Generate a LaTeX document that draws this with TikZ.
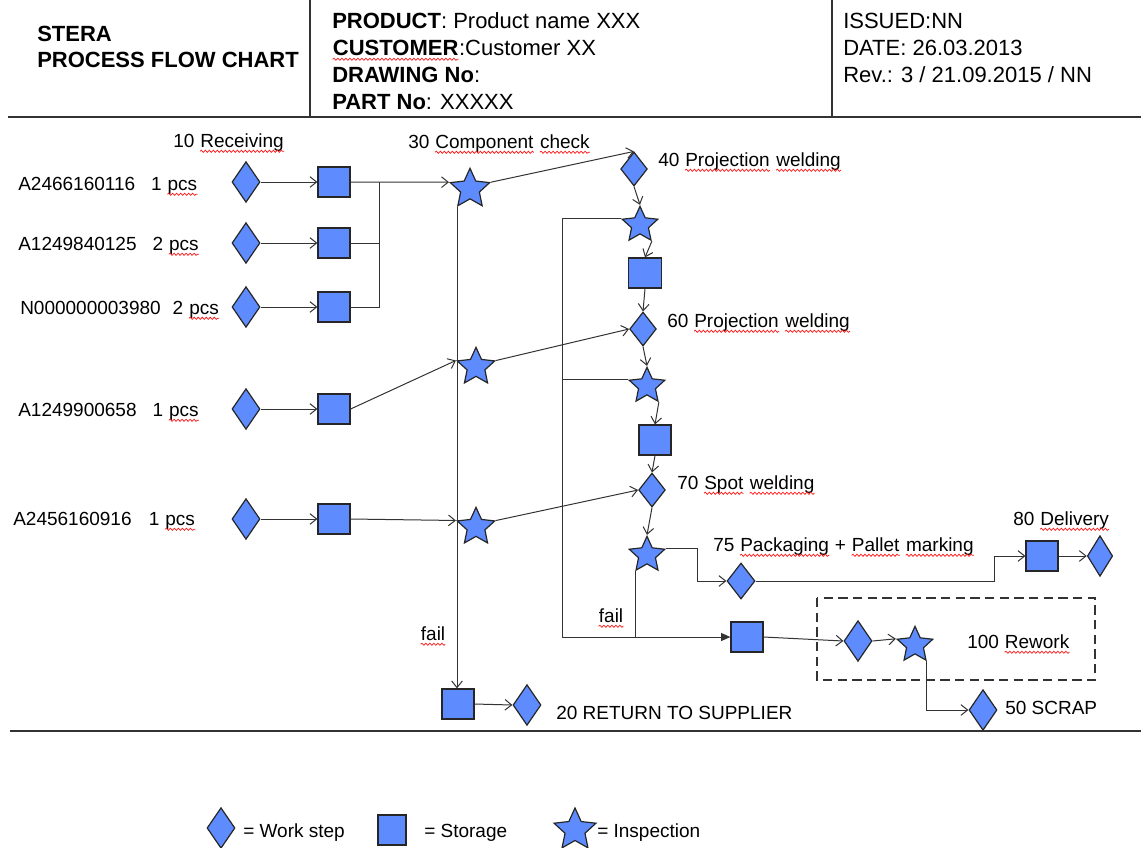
\documentclass[tikz,border=0pt]{standalone}
\usepackage{fontspec}
\setmainfont{Liberation Sans}
\usepackage{tikz}
\usetikzlibrary{shapes.geometric,arrows.meta,decorations.pathmorphing}
\definecolor{stepblue}{HTML}{5E8CFF}
\definecolor{linegray}{HTML}{333333}

\newcommand\spellwave[1]{\tikz[baseline=(sw.base)]{\node[inner sep=0pt,anchor=base] (sw) {#1};
    \draw[red!90,line width=0.55pt,decorate,decoration={snake,amplitude=0.8pt,segment length=3pt}]
        ([yshift=-3.2pt]sw.base west) -- ([yshift=-3.2pt]sw.base east);}}

\begin{document}
\begin{tikzpicture}[x=0.75pt,y=-0.75pt,
    work/.style={diamond,draw=black!85,fill=stepblue,line width=0.9pt,inner sep=0pt,minimum width=21pt,minimum height=30.5pt},
    smallwork/.style={work,minimum width=20pt,minimum height=25.5pt},
    store/.style={rectangle,draw=black!85,fill=stepblue,line width=0.9pt,inner sep=0pt,minimum width=24pt,minimum height=22.5pt},
    check/.style={star,star points=5,star point ratio=2.1,draw=black!85,fill=stepblue,line width=0.9pt,inner sep=0pt,minimum size=29.5pt},
    smallcheck/.style={check,minimum size=28pt},
    wire/.style={draw=linegray,line width=0.75pt},
    flow/.style={wire,-{Straight Barb[length=5pt,width=8pt]}},
    lbl/.style={anchor=base west,inner sep=0pt,font=\fontsize{14.25}{17}\selectfont},
    head/.style={anchor=base west,inner sep=0pt,font=\fontsize{16.5}{19}\selectfont}]
    \useasboundingbox (0,0) rectangle (1141,847);

    % header
    \draw[line width=1pt,draw=linegray] (310,0) -- (310,117);
    \draw[line width=1pt,draw=linegray] (832,0) -- (832,117);
    \draw[line width=1.2pt,draw=linegray] (8,117) -- (1141,117);
    \draw[line width=1.2pt,draw=linegray] (10,731) -- (1141,731);
    \node[head,font=\fontsize{16.5}{19}\selectfont\bfseries] (title1) at (37,41) {STERA};
    \node[head,font=\fontsize{16.5}{19}\selectfont\bfseries] (title2) at (37,67) {PROCESS FLOW CHART};
    \node[head] (prod) at (332,28) {\textbf{PRODUCT}: Product name XXX};
    \node[head] (cust) at (332,55) {\spellwave{\textbf{CUSTOMER}}:Customer XX};
    \node[head] (drw) at (332,82) {\textbf{DRAWING No}:};
    \node[head] (part) at (332,109) {\textbf{PART No}: XXXXX};
    \node[head] (iss) at (843,28) {ISSUED:NN};
    \node[head] (date) at (843,55) {DATE: 26.03.2013};
    \node[head] (rev) at (843,82) {Rev.: 3 / 21.09.2015 / NN};

    % incoming parts
    \node[lbl] (t10) at (173,147) {10 \spellwave{Receiving}};
    \node[lbl] (pn1) at (18,190) {A2466160116\hspace{12pt}1 \spellwave{pcs}};
    \node[lbl] (pn2) at (18,250) {A1249840125\hspace{12pt}2 \spellwave{pcs}};
    \node[lbl] (pn3) at (20,314) {N000000003980\hspace{9pt}2 \spellwave{pcs}};
    \node[lbl] (pn4) at (18,416) {A1249900658\hspace{12pt}1 \spellwave{pcs}};
    \node[lbl] (pn5) at (13,525) {A2456160916\hspace{13pt}1 \spellwave{pcs}};
    \node[work] (w1) at (246,182) {};
    \node[work] (w2) at (246,243) {};
    \node[work] (w3) at (246,307) {};
    \node[work] (w4) at (246,409) {};
    \node[work] (w5) at (246,519) {};
    \node[store] (st1) at (334,182) {};
    \node[store] (st2) at (334,243) {};
    \node[store] (st3) at (334,307) {};
    \node[store] (st4) at (334,409) {};
    \node[store] (st5) at (334,519) {};
    \foreach \i in {1,...,5} {
        \draw[flow] (w\i) -- (st\i);
    }

    % component check
    \node[lbl] (t30) at (408,148) {30 \spellwave{Component} \spellwave{check}};
    \node[check,minimum size=31pt] (in30) at (470,189) {};
    \node[check] (in31) at (476,367) {};
    \node[check] (in32) at (476,527) {};
    \coordinate (bus) at (379,182);
    \draw[flow] (st1.east) -- (in30.outer point 2);
    \draw[wire] (st2.east) -| (bus);
    \draw[wire] (st3.east) -| (bus);
    \draw[flow] (st4.east) -- (in31.outer point 2);
    \draw[flow] (st5.east) -- (in32.outer point 2);

    % welding line
    \node[smallwork] (w40) at (634,169) {};
    \node[lbl] (t40) at (658,166) {40 \spellwave{Projection} \spellwave{welding}};
    \node[smallcheck] (in40) at (640,225) {};
    \node[store,minimum width=25pt] (st40) at (645,273) {};
    \node[smallwork] (w60) at (643,329) {};
    \node[lbl] (t60) at (667,327) {60 \spellwave{Projection} \spellwave{welding}};
    \node[smallcheck] (in60) at (647,386) {};
    \node[store] (st60) at (655,440) {};
    \node[smallwork] (w70) at (652,490) {};
    \node[lbl] (t70) at (677,489) {70 \spellwave{Spot} \spellwave{welding}};
    \node[smallcheck] (in70) at (647,555) {};
    \draw[flow] (in30.outer point 5) -- (w40.north);
    \draw[flow] (w40.south) -- (in40.outer point 1);
    \draw[flow] (in40.outer point 4) -- (st40.north);
    \draw[flow] (st40.south) -- (w60.north);
    \draw[flow] (in31.outer point 5) -- (w60.west);
    \draw[flow] (w60.south) -- (in60.outer point 1);
    \draw[flow] (in60.outer point 4) -- (st60.north);
    \draw[flow] (st60.south) -- (w70.north);
    \draw[flow] (in32.outer point 5) -- (w70.west);
    \draw[flow] (w70.south) -- (in70.outer point 1);

    % packaging and delivery
    \node[lbl] (t75) at (713,551) {75 \spellwave{Packaging} + \spellwave{Pallet} \spellwave{marking}};
    \node[work,minimum width=21pt,minimum height=27pt] (w75) at (741,581) {};
    \node[lbl] (t80) at (1013,525) {80 \spellwave{Delivery}};
    \node[store] (st80) at (1042,556) {};
    \node[work,minimum width=19pt] (w80) at (1100,556) {};
    \coordinate (k80) at (994,581);
    \draw[flow] (in70.outer point 5) -- ++(31,0) |- (w75.west);
    \draw[flow] (w75.east) -- (k80) |- (st80.west);
    \draw[flow] (st80) -- (w80);

    % fail: rework and scrap
    \node[lbl] (fail2) at (598,622) {\spellwave{fail}};
    \node[store] (st100) at (747,637) {};
    \node[work] (w100) at (858,641) {};
    \node[smallcheck] (in100) at (915,645) {};
    \node[lbl] (t100) at (967,648) {100 \spellwave{Rework}};
    \node[work] (w50) at (983,710) {};
    \node[lbl] (t50) at (1005,714) {50 SCRAP};
    \draw[draw=black!80,line width=0.9pt,dash pattern=on 7pt off 4pt] (817,598) rectangle (1095,680);
    \coordinate (fb) at (562,637);
    \draw[wire] (in40.outer point 2) -| (fb);
    \draw[wire] (in60.outer point 2) -- (in60.outer point 2 -| fb);
    \draw[wire] (in70.outer point 3) -- (in70.outer point 3 |- fb);
    \draw[wire,-{Triangle[length=7pt,width=6pt]}] (fb) -- (st100.west);
    \draw[flow] (st100.east) -- (w100.west);
    \draw[flow] (w100.east) -- (in100.outer point 2);
    \draw[flow] (in100.outer point 4) |- (w50.west);

    % fail: return to supplier
    \node[lbl] (fail1) at (420,640) {\spellwave{fail}};
    \node[store] (st20) at (458,704) {};
    \node[work] (w20) at (527,705) {};
    \node[lbl] (t20) at (556,719) {20 RETURN TO SUPPLIER};
    \draw[flow] (in30.outer point 3) -- (in30.outer point 3 |- st20.north);
    \draw[flow] (st20.east) -- (w20.west);

    % legend
    \node[work] (lw) at (221,828) {};
    \node[lbl] (lwt) at (243,837) {= Work step};
    \node[store,minimum width=21pt] (ls) at (392,830) {};
    \node[lbl] (lst) at (424,837) {= Storage};
    \node[check,minimum size=33pt] (li) at (575,830) {};
    \node[lbl] (lit) at (597,837) {= Inspection};
\end{tikzpicture}
\end{document}
